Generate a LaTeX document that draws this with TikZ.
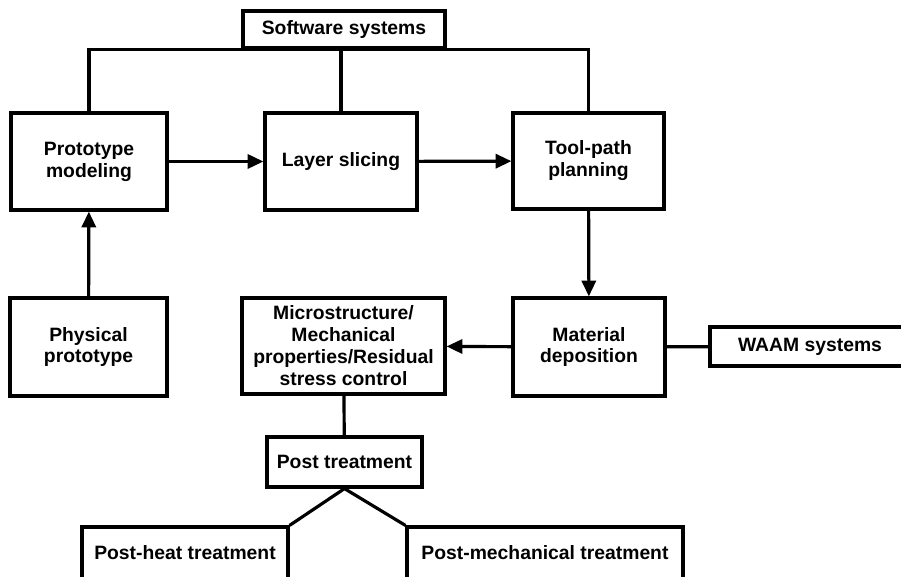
\documentclass[tikz,border=0pt]{standalone}
\usepackage{fontspec}
\setmainfont{Liberation Sans}
\usetikzlibrary{arrows.meta}

\begin{document}
\begin{tikzpicture}[x=0.02cm, y=-0.02cm, line width=1.8pt,
    every node/.style={font=\fontsize{11}{12.5}\selectfont\bfseries},
    box/.style={draw, rectangle, align=center, inner sep=0pt},
    arr/.style={-{Triangle[length=9pt, width=8pt]}}]
    % Canvas size
    \useasboundingbox (0,0) rectangle (901,577);

    % Top row
    \node[box, minimum width=4.04cm, minimum height=0.74cm] (soft) at (344, 29.5) {Software systems};
    \node[box, minimum width=3.12cm, minimum height=1.94cm] (proto) at (89, 161.5) {Prototype\\modeling};
    \node[box, minimum width=3.04cm, minimum height=1.94cm] (layer) at (341, 161.5) {Layer slicing};
    \node[box, minimum width=3.02cm, minimum height=1.92cm] (tool) at (588.5, 161) {Tool-path\\planning};

    % Middle row
    \node[box, minimum width=3.14cm, minimum height=1.96cm] (phys) at (88.5, 347) {Physical\\prototype};
    \node[box, minimum width=4.06cm, minimum height=1.92cm] (micro) at (343.5, 346) {Microstructure/\\Mechanical\\properties/Residual\\stress control};
    \node[box, minimum width=3.04cm, minimum height=1.96cm] (depo) at (589, 347) {Material\\deposition};
    \node[box, minimum width=4.00cm, minimum height=0.78cm] (waam) at (810, 346.5) {WAAM systems};

    % Post treatment
    \node[box, minimum width=3.10cm, minimum height=1.00cm] (post) at (344.5, 462) {Post treatment};
    \node[box, minimum width=4.12cm, minimum height=1.04cm] (heat) at (185, 553) {Post-heat treatment};
    \node[box, minimum width=5.52cm, minimum height=1.04cm] (mech) at (545, 553) {Post-mechanical treatment};

    % Software links
    \draw (proto.north) |- (soft.south) -| (tool.north);
    \draw (layer.north) -- (layer.north |- soft.south);

    % Process flow
    \draw[arr] (proto) -- (layer);
    \draw[arr] (layer) -- (tool);
    \draw[arr] (tool) -- (depo);
    \draw[arr] (depo) -- (micro);
    \draw[arr] (phys) -- (proto);
    \draw (waam) -- (depo);

    % Post treatment links
    \draw (micro) -- (post);
    \draw (heat.north east) -- (post.south) -- (mech.north west);
\end{tikzpicture}
\end{document}
